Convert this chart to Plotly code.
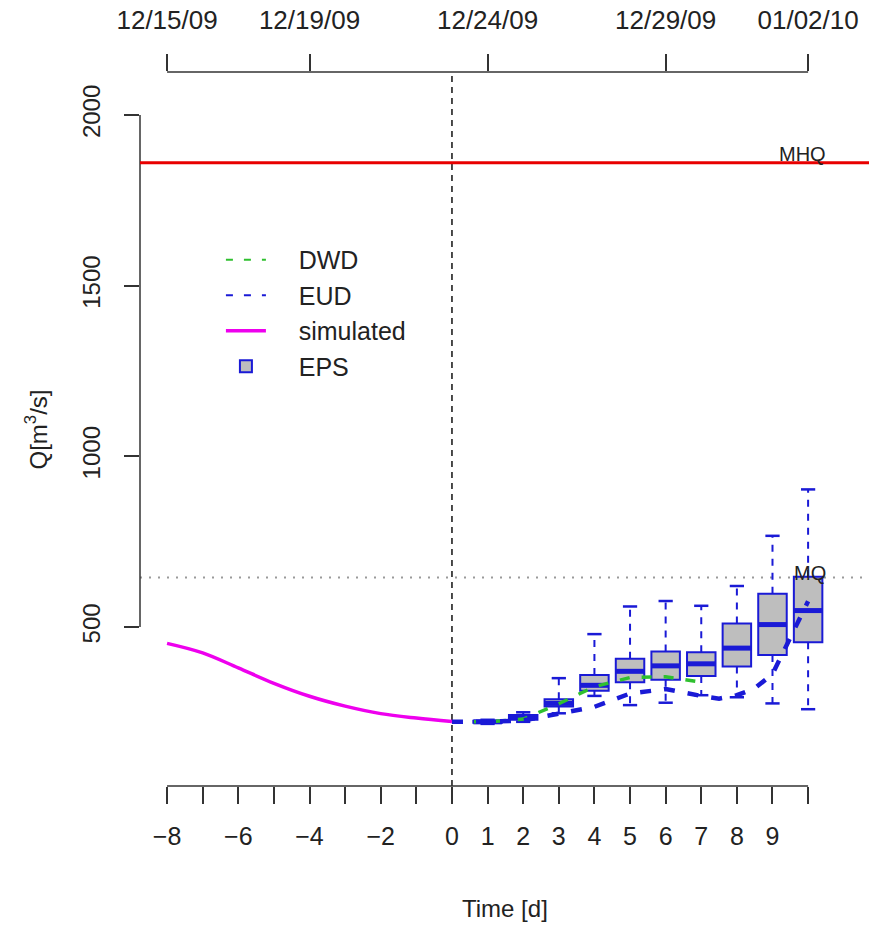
import plotly.graph_objects as go

# ---------------- data ----------------
eps_days = [1, 2, 3, 4, 5, 6, 7, 8, 9, 10]
eps_lower = [216, 222, 247, 298, 271, 278, 300, 294, 276, 259]
eps_q1 = [219, 228, 267, 313, 338, 345, 356, 384, 418, 455]
eps_median = [222, 235, 276, 329, 370, 386, 392, 438, 507, 548]
eps_q3 = [225, 242, 288, 359, 407, 428, 426, 510, 597, 647]
eps_upper = [228, 250, 350, 479, 560, 576, 562, 620, 767, 903]

sim_days = [-8, -7, -6, -5, -4, -3, -2, -1, 0]
sim_q = [452, 424, 380, 335, 297, 268, 246, 233, 223]

dwd_days = [0, 1, 2, 3, 4, 5, 6, 7]
dwd_q = [222, 222, 230, 275, 325, 352, 354, 338]

eud_days = [0, 1, 2, 3, 4, 5, 6, 7, 7.5, 8, 8.5, 9, 9.5, 10]
eud_q = [222, 222, 226, 245, 266, 305, 318, 298, 290, 300, 320, 362, 468, 575]

MHQ = 1860
MQ = 645

bottom_ticks = list(range(-8, 11))
bottom_labels = ["−8", "", "−6", "", "−4", "", "−2", "", "0", "1", "2", "3",
                 "4", "5", "6", "7", "8", "9", ""]
top_ticks = [-8, -4, 1, 6, 10]
top_labels = ["12/15/09", "12/19/09", "12/24/09", "12/29/09", "01/02/10"]
y_ticks = [500, 1000, 1500, 2000]

# ---------------- style ----------------
FONT = "Liberation Sans, Arial, Helvetica, sans-serif"
AX = "#333333"
BLUE = "#1a1ad6"
GREEN = "#2fc02f"
MAGENTA = "#ee00ee"
RED = "#e80000"
BOX_W = 0.8
CAP_W = 0.4
PAD = "\u00a0\u00a0\u00a0\u00a0"

fig = go.Figure()

# EPS boxes (no whiskers: fences at the quartiles)
fig.add_trace(go.Box(
    x=eps_days, q1=eps_q1, median=eps_median, q3=eps_q3,
    lowerfence=eps_q1, upperfence=eps_q3,
    width=BOX_W, fillcolor="#bebebe", line=dict(color=BLUE, width=2),
    whiskerwidth=0, name=PAD + "EPS", showlegend=True, legendrank=4,
    hoverinfo="skip"))

# dashed whiskers
wx, wy = [], []
for d, lo, a, b, hi in zip(eps_days, eps_lower, eps_q1, eps_q3, eps_upper):
    wx += [d, d, None, d, d, None]
    wy += [b, hi, None, a, lo, None]
fig.add_trace(go.Scatter(x=wx, y=wy, mode="lines",
                         line=dict(color=BLUE, width=2, dash="7px,7px"),
                         showlegend=False, hoverinfo="skip"))
# caps
cx, cy = [], []
for d, lo, hi in zip(eps_days, eps_lower, eps_upper):
    cx += [d - CAP_W / 2, d + CAP_W / 2, None, d - CAP_W / 2, d + CAP_W / 2, None]
    cy += [hi, hi, None, lo, lo, None]
fig.add_trace(go.Scatter(x=cx, y=cy, mode="lines",
                         line=dict(color=BLUE, width=2.5),
                         showlegend=False, hoverinfo="skip"))
# thick medians
mx, my = [], []
for d, m in zip(eps_days, eps_median):
    mx += [d - BOX_W / 2, d + BOX_W / 2, None]
    my += [m, m, None]
fig.add_trace(go.Scatter(x=mx, y=my, mode="lines",
                         line=dict(color=BLUE, width=5),
                         showlegend=False, hoverinfo="skip"))

# simulated
fig.add_trace(go.Scatter(x=sim_days, y=sim_q, mode="lines",
                         line=dict(color=MAGENTA, width=3.5, shape="spline"),
                         name=PAD + "simulated", legendrank=3, hoverinfo="skip"))
# DWD
fig.add_trace(go.Scatter(x=dwd_days, y=dwd_q, mode="lines",
                         line=dict(color=GREEN, width=3.5, dash="10px,12px"),
                         showlegend=False, hoverinfo="skip"))
# EUD
fig.add_trace(go.Scatter(x=eud_days, y=eud_q, mode="lines",
                         line=dict(color=BLUE, width=4.5, dash="11px,13px"),
                         showlegend=False, hoverinfo="skip"))
# legend proxies
fig.add_trace(go.Scatter(x=[None], y=[None], mode="lines",
                         line=dict(color=GREEN, width=2, dash="7px,11px"),
                         name=PAD + "DWD", legendrank=1))
fig.add_trace(go.Scatter(x=[None], y=[None], mode="lines",
                         line=dict(color=BLUE, width=2, dash="7px,11px"),
                         name=PAD + "EUD", legendrank=2))

# invisible trace for the top date axis
fig.add_trace(go.Scatter(x=top_ticks, y=[MHQ] * len(top_ticks), xaxis="x2",
                         mode="markers", marker=dict(opacity=0),
                         showlegend=False, hoverinfo="skip"))

shapes = [
    dict(type="line", xref="paper", yref="y", x0=0, x1=0,
         y0=y_ticks[0], y1=y_ticks[-1], line=dict(color=AX, width=1.5)),
    dict(type="line", xref="x", yref="paper", x0=bottom_ticks[0],
         x1=bottom_ticks[-1], y0=0, y1=0, line=dict(color=AX, width=1.5)),
    dict(type="line", xref="x", yref="paper", x0=top_ticks[0],
         x1=top_ticks[-1], y0=1, y1=1, line=dict(color=AX, width=1.5)),
    dict(type="line", xref="x", yref="paper", x0=0, x1=0, y0=0, y1=1,
         line=dict(color="#111111", width=1.5, dash="6px,5px"), layer="below"),
    dict(type="line", xref="paper", yref="y", x0=0, x1=1, y0=MHQ, y1=MHQ,
         line=dict(color=RED, width=3)),
    dict(type="line", xref="paper", yref="y", x0=0, x1=1, y0=MQ, y1=MQ,
         line=dict(color="#9a9a9a", width=2, dash="2px,7px"), layer="below"),
]

annotations = [
    dict(x=9.83, y=MHQ, xref="x", yref="y", text="MHQ", showarrow=False,
         yanchor="middle", yshift=9, font=dict(size=20, color="#222")),
    dict(x=10.06, y=MQ, xref="x", yref="y", text="MQ", showarrow=False,
         yanchor="middle", yshift=4, font=dict(size=20, color="#222")),
    dict(x=0.5, y=-0.171, xref="paper", yref="paper", text="Time [d]",
         showarrow=False, xanchor="center", yanchor="middle",
         font=dict(size=24, color="#222")),
    dict(x=-0.142, y=0.5, xref="paper", yref="paper",
         text="Q[m<sup>3</sup>/s]", textangle=-90, showarrow=False,
         xanchor="center", yanchor="middle", font=dict(size=24, color="#222")),
]

fig.update_layout(
    width=869, height=929,
    margin=dict(l=140, r=0, t=72, b=143, pad=0),
    paper_bgcolor="white", plot_bgcolor="white",
    font=dict(family=FONT, size=24, color="#222"),
    showlegend=True,
    legend=dict(x=0.111, y=0.769, xanchor="left", yanchor="top",
                bgcolor="rgba(0,0,0,0)", borderwidth=0,
                font=dict(size=25), tracegroupgap=0, itemwidth=40),
    xaxis=dict(range=[-8.76, 11.71], tickmode="array", tickvals=bottom_ticks,
               ticktext=bottom_labels, ticks="outside", ticklen=17,
               tickwidth=1.5, tickcolor=AX, showgrid=False, zeroline=False,
               showline=False, ticklabelstandoff=11, tickfont=dict(size=25)),
    xaxis2=dict(range=[-8.76, 11.71], overlaying="x", side="top",
                anchor="y", tickmode="array", tickvals=top_ticks,
                ticktext=top_labels, ticks="outside", ticklen=17,
                tickwidth=1.5, tickcolor=AX, showgrid=False, zeroline=False,
                showline=False, ticklabelstandoff=15, tickfont=dict(size=26)),
    yaxis=dict(range=[34, 2126], tickmode="array", tickvals=y_ticks,
               ticks="outside", ticklen=15, tickwidth=1.5, tickcolor=AX,
               tickangle=-90, showgrid=False, zeroline=False, showline=False,
               ticklabelstandoff=14, tickfont=dict(size=24)),
    shapes=shapes,
    annotations=annotations,
)

fig.write_html("out.html")
